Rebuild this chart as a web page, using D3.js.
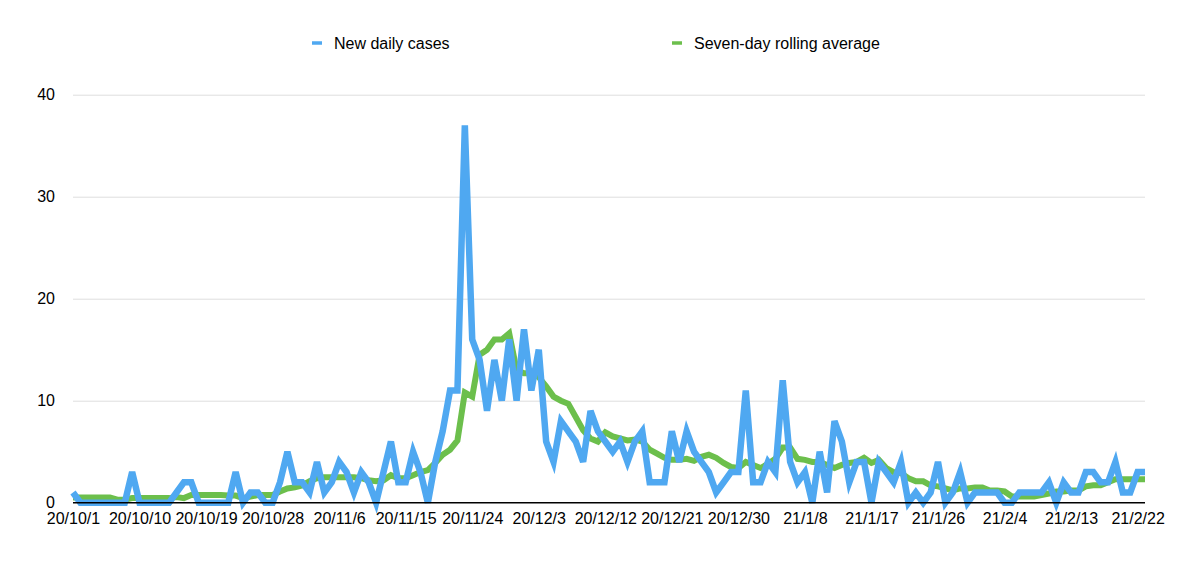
<!DOCTYPE html>
<html>
<head>
<meta charset="utf-8">
<script src="https://cdn.jsdelivr.net/npm/d3@7"></script>
<style>
	body { margin: 0; background: #fff; }
	svg text { font-family: "Liberation Sans", Arial, Helvetica, sans-serif; }
</style>
</head>
<body>
<svg id="chart" width="1200" height="571"></svg>
<script>
// first and last day of the series
var startDay = "20/10/1";
var endDay = "21/2/23";

// labels shown under the x axis
var tickLabels = ["20/10/1", "20/10/10", "20/10/19", "20/10/28", "20/11/6", "20/11/15",
	"20/11/24", "20/12/3", "20/12/12", "20/12/21", "20/12/30", "21/1/8", "21/1/17",
	"21/1/26", "21/2/4", "21/2/13", "21/2/22"];

var yTicks = [0, 10, 20, 30, 40];

// new daily cases, one per day from 20/10/1
var dailyCases = [
	1, 0, 0, 0, 0, 0, 0, 0, 3, 0,
	0, 0, 0, 0, 1, 2, 2, 0, 0, 0,
	0, 0, 3, 0, 1, 1, 0, 0, 2, 5,
	2, 2, 1, 4, 1, 2, 4, 3, 1, 3,
	2, 0, 3, 6, 2, 2, 5, 3, 0, 4,
	7, 11, 11, 37, 16, 14, 9, 14, 10, 16,
	10, 17, 11, 15, 6, 4, 8, 7, 6, 4,
	9, 7, 6, 5, 6, 4, 6, 7, 2, 2,
	2, 7, 4, 7, 5, 4, 3, 1, 2, 3,
	3, 11, 2, 2, 4, 3, 12, 4, 2, 3,
	0, 5, 1, 8, 6, 2, 4, 4, 0, 4,
	3, 2, 4, 0, 1, 0, 1, 4, 0, 1,
	3, 0, 1, 1, 1, 1, 0, 0, 1, 1,
	1, 1, 2, 0, 2, 1, 1, 3, 3, 2,
	2, 4, 1, 1, 3, 3
];

// seven-day rolling average as plotted
var rollingAvg = [
	0.5, 0.5, 0.5, 0.5, 0.5, 0.5, 0.3, 0.3, 0.45, 0.45,
	0.45, 0.45, 0.45, 0.45, 0.55, 0.45, 0.75, 0.75, 0.75, 0.75,
	0.75, 0.7, 0.7, 0.45, 0.6, 0.75, 0.75, 0.75, 1.1, 1.4,
	1.5, 1.7, 2.1, 2.4, 2.5, 2.5, 2.5, 2.5, 2.5, 2.4,
	2.2, 2.1, 2.2, 2.7, 2.4, 2.4, 2.7, 3.0, 3.2, 3.9,
	4.7, 5.2, 6.1, 10.8, 10.4, 14.5, 15, 16, 16, 16.6,
	13, 12.7, 12.7, 12.3, 11.4, 10.4, 10, 9.7, 8.4, 7.1,
	6.3, 6.0, 6.9, 6.5, 6.3, 6.1, 6.2, 6.0, 5.2, 4.8,
	4.4, 4.2, 4.2, 4.3, 4.1, 4.5, 4.7, 4.4, 3.9, 3.5,
	3.4, 4.0, 3.7, 3.4, 3.8, 4.3, 5.4, 5.4, 4.3, 4.2,
	4.0, 4.0, 3.7, 3.4, 3.7, 3.9, 4.0, 4.4, 3.9, 4.2,
	3.4, 3.0, 2.9, 2.4, 2.1, 2.1, 1.7, 1.6, 1.4, 1.2,
	1.4, 1.4, 1.5, 1.5, 1.2, 1.2, 1.1, 0.6, 0.6, 0.6,
	0.6, 0.75, 0.9, 1.1, 1.1, 1.2, 1.2, 1.6, 1.7, 1.7,
	2.0, 2.3, 2.3, 2.3, 2.3, 2.3
];

var seriesNames = ["New daily cases", "Seven-day rolling average"];
var seriesColors = ["#4fa8f1", "#6cbf4c"];

var svg = d3.select("#chart");
var parseDay = d3.timeParse("%y/%m/%d");

var plotLeft = 73, plotRight = 1145, plotTop = 94.7, plotBottom = 502.7;

var dates = d3.timeDay.range(parseDay(startDay), d3.timeDay.offset(parseDay(endDay), 1));

var x = d3.scaleTime()
	.domain([parseDay(startDay), parseDay(endDay)])
	.range([plotLeft, plotRight]);

var y = d3.scaleLinear()
	.domain([0, 40])
	.range([plotBottom, plotTop]);

// gridlines
svg.append("g")
	.attr("transform", "translate(" + plotLeft + ",0)")
	.call(d3.axisLeft(y).tickValues(yTicks.slice(1)).tickSize(-(plotRight - plotLeft)).tickFormat(""))
	.call(g => g.select(".domain").remove())
	.call(g => g.selectAll("line").attr("stroke", "#dedede").attr("stroke-width", 1));

// y labels
svg.append("g")
	.attr("transform", "translate(" + (plotLeft - 18) + ",0)")
	.call(d3.axisLeft(y).tickValues(yTicks).tickSize(0).tickPadding(0))
	.call(g => g.select(".domain").remove())
	.call(g => g.selectAll("text")
		.attr("font-size", 16)
		.attr("fill", "#000")
		.attr("font-family", "Liberation Sans, Arial, sans-serif"));

// x labels
svg.append("g")
	.attr("transform", "translate(0," + plotBottom + ")")
	.call(d3.axisBottom(x)
		.tickValues(tickLabels.map(parseDay))
		.tickFormat((d, i) => tickLabels[i])
		.tickSize(0)
		.tickPadding(10))
	.call(g => g.select(".domain").remove())
	.call(g => g.selectAll("text")
		.attr("font-size", 16)
		.attr("fill", "#000")
		.attr("font-family", "Liberation Sans, Arial, sans-serif"));

var line = d3.line()
	.x((d, i) => x(dates[i]))
	.y(d => y(d));

// green first so the blue sits on top
svg.append("path")
	.datum(rollingAvg)
	.attr("fill", "none")
	.attr("stroke", seriesColors[1])
	.attr("stroke-width", 6)
	.attr("d", line);

svg.append("path")
	.datum(dailyCases)
	.attr("fill", "none")
	.attr("stroke", seriesColors[0])
	.attr("stroke-width", 6.5)
	.attr("d", line);

// baseline
svg.append("line")
	.attr("x1", plotLeft).attr("x2", plotRight)
	.attr("y1", y(0)).attr("y2", y(0))
	.attr("stroke", "#000")
	.attr("stroke-width", 1.5);

// legend
var legendX = [312, 672];
var legend = svg.append("g").selectAll("g")
	.data(seriesNames)
	.join("g")
	.attr("transform", (d, i) => "translate(" + legendX[i] + ",43)");

legend.append("line")
	.attr("x1", 0).attr("x2", 10)
	.attr("stroke", (d, i) => seriesColors[i])
	.attr("stroke-width", 3.5);

legend.append("text")
	.attr("x", 22)
	.attr("y", 6)
	.attr("font-size", 16)
	.attr("fill", "#000")
	.text(d => d);
</script>
</body>
</html>
